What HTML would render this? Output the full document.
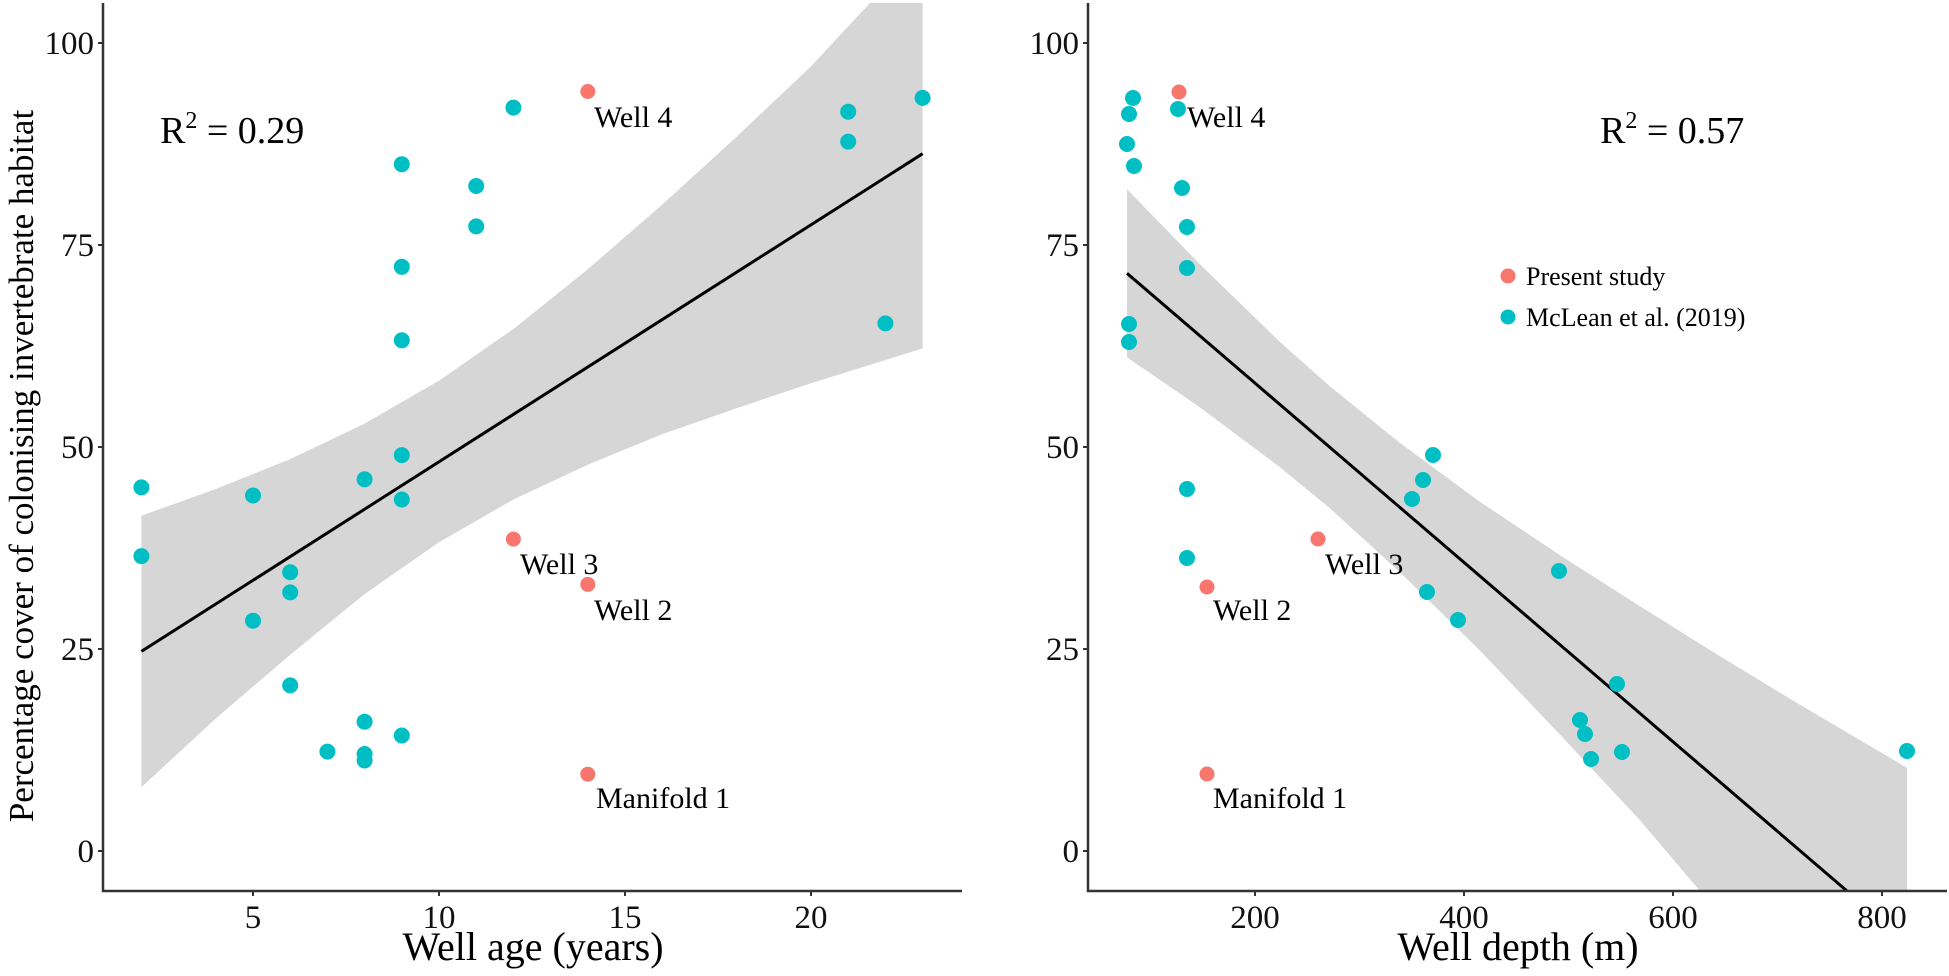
<!DOCTYPE html>
<html><head><meta charset="utf-8"><style>
html,body{margin:0;padding:0;background:#fff;width:1949px;height:976px;overflow:hidden;}
svg{display:block;font-family:"Liberation Serif","Times New Roman",serif;overflow:hidden;}
</style></head><body>
<svg width="1949" height="976" viewBox="0 0 1949 976" xmlns="http://www.w3.org/2000/svg">
<defs>
<clipPath id="cl"><rect x="103" y="3" width="860" height="888"/></clipPath>
<clipPath id="cr"><rect x="1088" y="3" width="861" height="888"/></clipPath>
</defs>
<!-- LEFT PANEL -->
<g clip-path="url(#cl)">
<polygon fill="#d6d6d6" points="141.4,515.7 215.8,489.0 290.2,459.1 364.6,423.6 439,380.7 513.4,329.0 587.8,269.2 662.2,204.6 736.6,136.7 811,66.4 870,3 922.6,3 922.6,348.4 811,383.2 736.6,408.2 662.2,434.1 587.8,464.8 513.4,499.5 439,542.3 364.6,594.1 290.2,654.7 215.8,718.5 141.4,787.2"/>
<line x1="141.4" y1="651.4" x2="922.6" y2="153.7" stroke="#000" stroke-width="3"/>
</g>
<g fill="#00BFC4">
<circle cx="141.4" cy="487.4" r="8"/><circle cx="141.4" cy="556.1" r="8"/>
<circle cx="253" cy="495.5" r="8"/><circle cx="253" cy="620.7" r="8"/>
<circle cx="290.2" cy="572.2" r="8"/><circle cx="290.2" cy="592.4" r="8"/><circle cx="290.2" cy="685.4" r="8"/>
<circle cx="327.4" cy="751.6" r="8"/>
<circle cx="364.6" cy="479.3" r="8"/><circle cx="364.6" cy="721.7" r="8"/><circle cx="364.6" cy="754" r="8"/><circle cx="364.6" cy="760.5" r="8"/>
<circle cx="401.8" cy="164.2" r="8"/><circle cx="401.8" cy="266.8" r="8"/><circle cx="401.8" cy="340.3" r="8"/><circle cx="401.8" cy="455.1" r="8"/><circle cx="401.8" cy="499.5" r="8"/><circle cx="401.8" cy="735.5" r="8"/>
<circle cx="476.2" cy="186" r="8"/><circle cx="476.2" cy="226.4" r="8"/>
<circle cx="513.4" cy="107.6" r="8"/>
<circle cx="848.2" cy="111.7" r="8"/><circle cx="848.2" cy="141.6" r="8"/>
<circle cx="885.4" cy="323.4" r="8"/><circle cx="922.6" cy="97.9" r="8"/>
</g>
<g fill="#F8766D">
<circle cx="513.4" cy="539.1" r="7.5"/><circle cx="587.8" cy="91.5" r="7.5"/><circle cx="587.8" cy="584.4" r="7.5"/><circle cx="587.8" cy="774.2" r="7.5"/>
</g>
<g font-size="30" fill="#000">
<text x="594" y="127">Well 4</text>
<text x="520" y="574">Well 3</text>
<text x="594" y="620">Well 2</text>
<text x="596" y="808">Manifold 1</text>
</g>
<text x="160" y="143" font-size="38">R<tspan dy="-15" font-size="24">2</tspan><tspan dy="15"> = 0.29</tspan></text>
<g stroke="#333" stroke-width="2.5" fill="none">
<polyline points="103,3 103,891 962,891"/>
</g>
<g stroke="#333" stroke-width="2">
<line x1="98" y1="851" x2="103" y2="851"/><line x1="98" y1="649" x2="103" y2="649"/><line x1="98" y1="447" x2="103" y2="447"/><line x1="98" y1="245" x2="103" y2="245"/><line x1="98" y1="43" x2="103" y2="43"/>
<line x1="253" y1="891" x2="253" y2="896"/><line x1="439" y1="891" x2="439" y2="896"/><line x1="625" y1="891" x2="625" y2="896"/><line x1="811" y1="891" x2="811" y2="896"/>
</g>
<g font-size="33" fill="#111" text-anchor="end">
<text x="94" y="862">0</text><text x="94" y="660">25</text><text x="94" y="458">50</text><text x="94" y="256">75</text><text x="94" y="54">100</text>
</g>
<g font-size="33" fill="#111" text-anchor="middle">
<text x="253" y="928">5</text><text x="439" y="928">10</text><text x="625" y="928">15</text><text x="811" y="928">20</text>
</g>
<text x="533" y="960" font-size="40" text-anchor="middle">Well age (years)</text>
<text transform="translate(33,466) rotate(-90)" font-size="35" text-anchor="middle">Percentage cover of colonising invertebrate habitat</text>

<!-- RIGHT PANEL -->
<g clip-path="url(#cr)">
<polygon fill="#d6d6d6" points="1127,189.3 1200,264.4 1280,342 1330,386.4 1400,443 1480,501.9 1560,555.3 1640,606.2 1720,656.3 1800,704.8 1907,767.8 1907,891 1700,891 1640,820.3 1560,734.6 1480,650.6 1400,572.2 1330,508.4 1280,467.2 1200,407.4 1127,357.3"/>
<line x1="1127" y1="273.3" x2="1847" y2="891" stroke="#000" stroke-width="3"/>
</g>
<g fill="#00BFC4">
<circle cx="1133" cy="98" r="8"/><circle cx="1129" cy="114" r="8"/><circle cx="1127" cy="144" r="8"/><circle cx="1134" cy="166" r="8"/>
<circle cx="1178" cy="109" r="8"/><circle cx="1182" cy="188" r="8"/><circle cx="1187" cy="227" r="8"/><circle cx="1187" cy="268" r="8"/>
<circle cx="1129" cy="324" r="8"/><circle cx="1129" cy="342" r="8"/><circle cx="1187" cy="489" r="8"/><circle cx="1187" cy="558" r="8"/>
<circle cx="1433" cy="455" r="8"/><circle cx="1423" cy="480" r="8"/><circle cx="1412" cy="499" r="8"/><circle cx="1559" cy="571" r="8"/>
<circle cx="1427" cy="592" r="8"/><circle cx="1458" cy="620" r="8"/><circle cx="1617" cy="684" r="8"/><circle cx="1580" cy="720" r="8"/>
<circle cx="1585" cy="734" r="8"/><circle cx="1591" cy="759" r="8"/><circle cx="1622" cy="752" r="8"/><circle cx="1907" cy="751" r="8"/>
</g>
<g fill="#F8766D">
<circle cx="1179" cy="92" r="7.5"/><circle cx="1207" cy="587" r="7.5"/><circle cx="1318" cy="539" r="7.5"/><circle cx="1207" cy="774" r="7.5"/>
</g>
<g font-size="30" fill="#000">
<text x="1187" y="127">Well 4</text>
<text x="1325" y="574">Well 3</text>
<text x="1213" y="620">Well 2</text>
<text x="1213" y="808">Manifold 1</text>
</g>
<text x="1600" y="143" font-size="38">R<tspan dy="-15" font-size="24">2</tspan><tspan dy="15"> = 0.57</tspan></text>
<circle cx="1508" cy="276" r="7.5" fill="#F8766D"/>
<circle cx="1508" cy="317" r="7.5" fill="#00BFC4"/>
<text x="1526" y="285" font-size="26">Present study</text>
<text x="1526" y="326" font-size="26">McLean et al. (2019)</text>
<g stroke="#333" stroke-width="2.5" fill="none">
<polyline points="1088,3 1088,891 1947,891"/>
</g>
<g stroke="#333" stroke-width="2">
<line x1="1083" y1="851" x2="1088" y2="851"/><line x1="1083" y1="649" x2="1088" y2="649"/><line x1="1083" y1="447" x2="1088" y2="447"/><line x1="1083" y1="245" x2="1088" y2="245"/><line x1="1083" y1="43" x2="1088" y2="43"/>
<line x1="1255" y1="891" x2="1255" y2="896"/><line x1="1464" y1="891" x2="1464" y2="896"/><line x1="1673" y1="891" x2="1673" y2="896"/><line x1="1882" y1="891" x2="1882" y2="896"/>
</g>
<g font-size="33" fill="#111" text-anchor="end">
<text x="1079" y="862">0</text><text x="1079" y="660">25</text><text x="1079" y="458">50</text><text x="1079" y="256">75</text><text x="1079" y="54">100</text>
</g>
<g font-size="33" fill="#111" text-anchor="middle">
<text x="1255" y="928">200</text><text x="1464" y="928">400</text><text x="1673" y="928">600</text><text x="1882" y="928">800</text>
</g>
<text x="1518" y="960" font-size="40" text-anchor="middle">Well depth (m)</text>
</svg>
</body></html>
